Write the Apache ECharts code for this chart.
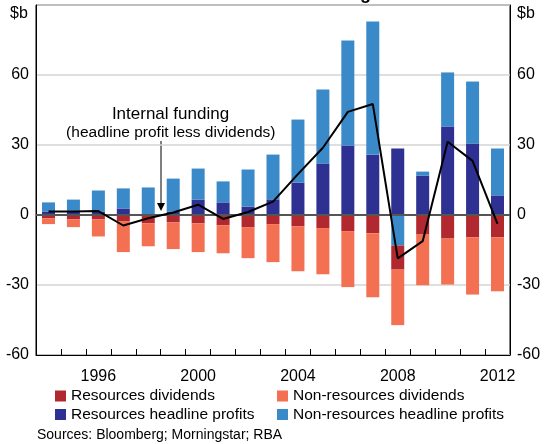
<!DOCTYPE html>
<html>
<head>
<meta charset="utf-8">
<script src="https://cdn.jsdelivr.net/npm/echarts@6/dist/echarts.min.js"></script>
<style>
  html, body { margin: 0; padding: 0; background: #fff; }
  #main { width: 544px; height: 444px; }
</style>
</head>
<body>
<div id="main"></div>
<script>
// data ($b)
var years = ['1994','1995','1996','1997','1998','1999','2000','2001','2002','2003',
             '2004','2005','2006','2007','2008','2009','2010','2011','2012'];
var resProfit    = [1.5, 1.8, 1.5, 2.8, 0.3, 1.5, 6.6, 5.4, 3.6, 6.7, 13.9, 22.1, 29.8, 25.9, 28.5, 16.9, 37.9, 30.6, 8.4];
var nonResProfit = [3.9, 4.8, 9.0, 8.6, 11.5, 14.1, 13.3, 9.0, 15.9, 19.2, 27.0, 31.7, 45.0, 57.0, -13.1, 1.7, 23.2, 26.6, 20.1];
var resDiv       = [-1.4, -1.9, -1.8, -2.6, -3.5, -3.2, -3.6, -4.4, -5.2, -3.9, -4.9, -5.6, -6.9, -7.8, -10.3, -8.4, -10.1, -9.6, -9.6];
var nonResDiv    = [-2.5, -3.3, -7.4, -13.3, -9.9, -11.4, -12.3, -12.0, -13.3, -16.3, -19.2, -19.8, -24.0, -27.4, -23.8, -21.7, -19.7, -24.5, -23.1];
var internalFunding = [1.5, 1.5, 1.7, -4.5, -1.4, 1.1, 4.4, -1.7, 1.3, 5.7, 17.5, 28.8, 44.2, 47.6, -18.6, -11.2, 31.4, 23.2, -3.8];
var labelYears = ['1996','2000','2004','2008','2012'];

var FONT = 'Liberation Sans, Arial, sans-serif';
var chart = echarts.init(document.getElementById('main'));

var yAx = function (pos) {
    return {
        type: 'value', position: pos, min: -60, max: 90, interval: 30,
        axisLine: { show: true, lineStyle: { color: '#000', width: 1 } },
        axisTick: { show: false },
        axisLabel: {
            color: '#000', fontSize: 16, fontFamily: FONT, margin: 7,
            formatter: function (v) { return v === 90 ? '' : v; }
        },
        splitLine: { show: pos === 'left', lineStyle: { color: '#d4d4d4', width: 1.5 } }
    };
};

var barBase = function (name, data, color) {
    return { name: name, type: 'bar', stack: 'a', barWidth: 13, data: data,
             itemStyle: { color: color }, emphasis: { disabled: true } };
};

var option = {
    animation: false,
    grid: { left: 36, right: 34, top: 5, bottom: 89, show: true,
            borderColor: '#000', borderWidth: 1, backgroundColor: 'transparent' },
    legend: [
        { left: 50, top: 383, orient: 'vertical', itemWidth: 11, itemHeight: 11, itemGap: 2.5,
          icon: 'rect', selectedMode: false,
          textStyle: { color: '#000', fontSize: 15.5, fontFamily: FONT },
          data: ['Resources dividends', 'Resources headline profits'] },
        { left: 272, top: 383, orient: 'vertical', itemWidth: 11, itemHeight: 11, itemGap: 2.5,
          icon: 'rect', selectedMode: false,
          textStyle: { color: '#000', fontSize: 15.5, fontFamily: FONT },
          data: ['Non-resources dividends', 'Non-resources headline profits'] }
    ],
    xAxis: {
        type: 'category', data: years, boundaryGap: true,
        axisLine: { show: true, onZero: false, lineStyle: { color: '#000', width: 1 } },
        axisTick: { show: true, inside: true, interval: 0, length: 6, lineStyle: { color: '#000' } },
        axisLabel: {
            color: '#000', fontSize: 16, fontFamily: FONT, margin: 14,
            interval: function (i, v) { return labelYears.indexOf(v) >= 0; }
        },
        splitLine: { show: false }
    },
    yAxis: [yAx('left'), yAx('right')],
    series: [
        barBase('Resources headline profits', resProfit, '#2e3192'),
        barBase('Non-resources headline profits', nonResProfit, '#3a89c9'),
        barBase('Resources dividends', resDiv, '#b1282f'),
        barBase('Non-resources dividends', nonResDiv, '#f37152'),
        {
            name: 'Internal funding', type: 'line', data: internalFunding, z: 5,
            symbol: 'none', lineStyle: { color: '#000', width: 2 },
            emphasis: { disabled: true },
            markLine: {
                silent: true, symbol: 'none', label: { show: false },
                lineStyle: { color: '#555', width: 2, type: 'solid' },
                data: [{ yAxis: 0 }]
            }
        }
    ],
    graphic: [
        { type: 'text', left: 10, top: 6, style: { text: '$b', fontSize: 16, fontFamily: FONT, fill: '#000' } },
        { type: 'text', left: 517, top: 6, style: { text: '$b', fontSize: 16, fontFamily: FONT, fill: '#000' } },
        { type: 'text', x: 371, y: 3, style: { text: 'Internal Funding', fontSize: 18, fontWeight: 'bold',
            fontFamily: FONT, fill: '#000', align: 'right', verticalAlign: 'bottom' } },
        { type: 'text', x: 170.5, y: 114, style: { text: 'Internal funding', fontSize: 17, fontFamily: FONT,
            fill: '#000', align: 'center', verticalAlign: 'middle' } },
        { type: 'text', x: 170.8, y: 133, style: { text: '(headline profit less dividends)', fontSize: 15.5,
            fontFamily: FONT, fill: '#000', align: 'center', verticalAlign: 'middle' } },
        { type: 'line', shape: { x1: 161, y1: 141, x2: 161, y2: 205 }, style: { stroke: '#000', lineWidth: 1 } },
        { type: 'polygon', shape: { points: [[157, 203], [165, 203], [161, 211]] }, style: { fill: '#000' } },
        { type: 'text', left: 37, top: 428, style: { text: 'Sources: Bloomberg; Morningstar; RBA', fontSize: 14,
            fontFamily: FONT, fill: '#000' } }
    ]
};
chart.setOption(option);
</script>
</body>
</html>
